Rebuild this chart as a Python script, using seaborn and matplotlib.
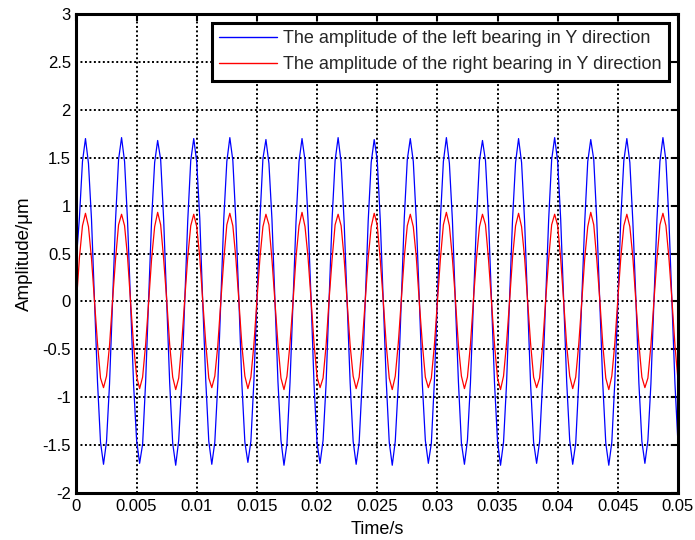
import numpy as np
import pandas as pd
import matplotlib
matplotlib.use("Agg")
import matplotlib.pyplot as plt
import seaborn as sns

# ---------------- data ----------------
T_START, T_END = 0.0, 0.05

left_bearing = [
    0.45, 0.88, 1.46, 1.70, 1.44, 0.86, 0.02, -0.84, -1.47, -1.70, -1.46, -0.86,
    -0.02, 0.85, 1.48, 1.71, 1.46, 0.83, -0.01, -0.87, -1.45, -1.69, -1.49, -0.84,
    0.03, 0.86, 1.45, 1.68, 1.48, 0.85, 0.01, -0.85, -1.48, -1.71, -1.45, -0.85,
    0.01, 0.84, 1.47, 1.70, 1.45, 0.87, -0.02, -0.83, -1.46, -1.70, -1.47, -0.86,
    -0.01, 0.87, 1.46, 1.71, 1.47, 0.84, 0.02, -0.86, -1.47, -1.68, -1.46, -0.83,
    0.02, 0.85, 1.49, 1.69, 1.44, 0.86, 0.00, -0.84, -1.45, -1.71, -1.48, -0.85,
    0.00, 0.83, 1.46, 1.70, 1.47, 0.85, 0.03, -0.87, -1.48, -1.69, -1.45, -0.86,
    0.02, 0.86, 1.47, 1.71, 1.45, 0.83, -0.01, -0.85, -1.46, -1.70, -1.47, -0.84,
    -0.02, 0.84, 1.45, 1.69, 1.48, 0.86, 0.01, -0.83, -1.47, -1.71, -1.46, -0.87,
    0.01, 0.87, 1.48, 1.70, 1.46, 0.84, 0.02, -0.86, -1.45, -1.69, -1.48, -0.84,
    0.03, 0.85, 1.46, 1.71, 1.44, 0.85, -0.02, -0.84, -1.48, -1.70, -1.45, -0.85,
    -0.01, 0.84, 1.47, 1.68, 1.47, 0.87, 0.01, -0.85, -1.46, -1.71, -1.47, -0.86,
    0.02, 0.86, 1.45, 1.70, 1.45, 0.84, 0.00, -0.87, -1.47, -1.69, -1.46, -0.83,
    0.00, 0.85, 1.48, 1.71, 1.46, 0.86, 0.02, -0.84, -1.45, -1.70, -1.48, -0.85,
    0.01, 0.83, 1.46, 1.69, 1.48, 0.85, -0.01, -0.86, -1.48, -1.71, -1.47, -0.84,
    -0.02, 0.87, 1.47, 1.70, 1.45, 0.83, 0.03, -0.85, -1.46, -1.69, -1.45, -0.86,
    0.01, 0.85, 1.46, 1.71, 1.47, 0.84, 0.00, -0.86, -1.48,
]

right_bearing = [
    0.00, 0.46, 0.79, 0.92, 0.78, 0.45, 0.01, -0.44, -0.80, -0.90, -0.78, -0.46,
    0.01, 0.44, 0.80, 0.91, 0.79, 0.46, -0.01, -0.46, -0.78, -0.91, -0.79, -0.45,
    -0.01, 0.45, 0.78, 0.93, 0.80, 0.44, 0.02, -0.45, -0.79, -0.92, -0.80, -0.44,
    0.02, 0.46, 0.79, 0.91, 0.78, 0.46, 0.00, -0.44, -0.80, -0.90, -0.78, -0.46,
    0.00, 0.44, 0.80, 0.92, 0.79, 0.45, 0.01, -0.46, -0.78, -0.91, -0.79, -0.45,
    0.01, 0.45, 0.78, 0.91, 0.80, 0.44, -0.01, -0.45, -0.80, -0.92, -0.78, -0.44,
    -0.01, 0.46, 0.79, 0.93, 0.78, 0.46, 0.02, -0.44, -0.79, -0.90, -0.80, -0.46,
    0.02, 0.44, 0.80, 0.91, 0.79, 0.45, 0.00, -0.46, -0.78, -0.91, -0.79, -0.45,
    0.00, 0.45, 0.78, 0.92, 0.80, 0.44, 0.01, -0.45, -0.80, -0.92, -0.78, -0.44,
    0.01, 0.46, 0.79, 0.91, 0.78, 0.46, -0.01, -0.44, -0.79, -0.90, -0.80, -0.46,
    -0.01, 0.44, 0.80, 0.93, 0.79, 0.45, 0.02, -0.46, -0.78, -0.91, -0.79, -0.45,
    0.02, 0.45, 0.78, 0.91, 0.80, 0.44, 0.00, -0.45, -0.80, -0.92, -0.78, -0.44,
    0.00, 0.46, 0.79, 0.92, 0.78, 0.46, 0.01, -0.44, -0.79, -0.90, -0.80, -0.46,
    0.01, 0.44, 0.80, 0.91, 0.79, 0.45, -0.01, -0.46, -0.78, -0.91, -0.79, -0.45,
    -0.01, 0.45, 0.78, 0.93, 0.80, 0.44, 0.02, -0.45, -0.80, -0.92, -0.78, -0.44,
    0.02, 0.46, 0.79, 0.91, 0.78, 0.46, 0.00, -0.44, -0.79, -0.90, -0.80, -0.46,
    0.00, 0.44, 0.80, 0.92, 0.79, 0.45, 0.01, -0.46, -0.82,
]

series_names = [
    "The amplitude of the left bearing in Y direction",
    "The amplitude of the right bearing in Y direction",
]
x_ticks = [0, 0.005, 0.01, 0.015, 0.02, 0.025, 0.03, 0.035, 0.04, 0.045, 0.05]
x_tick_labels = ["0", "0.005", "0.01", "0.015", "0.02", "0.025", "0.03",
                 "0.035", "0.04", "0.045", "0.05"]
y_ticks = [-2, -1.5, -1, -0.5, 0, 0.5, 1, 1.5, 2, 2.5, 3]
y_tick_labels = ["-2", "-1.5", "-1", "-0.5", "0", "0.5", "1", "1.5", "2", "2.5", "3"]
x_label = "Time/s"
y_label = "Amplitude/μm"

# ---------------- build table ----------------
time = np.linspace(T_START, T_END, len(left_bearing))
df = pd.concat([
    pd.DataFrame({"t": time, "amp": left_bearing, "series": series_names[0]}),
    pd.DataFrame({"t": time, "amp": right_bearing, "series": series_names[1]}),
], ignore_index=True)

# ---------------- style ----------------
sns.set_theme(style="white")
plt.rcParams["font.family"] = ["Liberation Sans", "DejaVu Sans"]

fig = plt.figure(figsize=(6.95, 5.40), dpi=100)
ax = fig.add_axes([0.110, 0.087, 0.8655, 0.887])

sns.lineplot(data=df, x="t", y="amp", hue="series",
             palette={series_names[0]: "#0000ff", series_names[1]: "#ff0000"},
             estimator=None, sort=False, linewidth=0.9, ax=ax)

ax.set_xlim(0, 0.05)
ax.set_ylim(-2, 3)
ax.set_xticks(x_ticks)
ax.set_xticklabels(x_tick_labels)
ax.set_yticks(y_ticks)
ax.set_yticklabels(y_tick_labels)

ax.grid(True, color="black", linestyle=(0, (1, 1.3)), linewidth=1.4)
ax.set_axisbelow(True)

for sp in ax.spines.values():
    sp.set_color("black")
    sp.set_linewidth(2.2)
    sp.set_visible(True)

ax.tick_params(direction="in", top=True, right=True, length=5, width=1.5,
               colors="black", labelsize=12, pad=4)
for lab in ax.get_xticklabels() + ax.get_yticklabels():
    lab.set_color("black")

ax.set_xlabel(x_label, fontsize=13, color="black", labelpad=5)
ax.set_ylabel(y_label, fontsize=13.5, color="black", labelpad=7)

leg = ax.legend(loc="upper right", fontsize=13, frameon=True, fancybox=False,
                framealpha=1, edgecolor="black", handlelength=3.2,
                handletextpad=0.35, borderpad=0.4, labelspacing=0.5,
                borderaxespad=0.5)
leg.get_frame().set_linewidth(2.2)
leg.set_title(None)
for line in leg.get_lines():
    line.set_linewidth(1.0)

fig.savefig("out.png", dpi=100)
